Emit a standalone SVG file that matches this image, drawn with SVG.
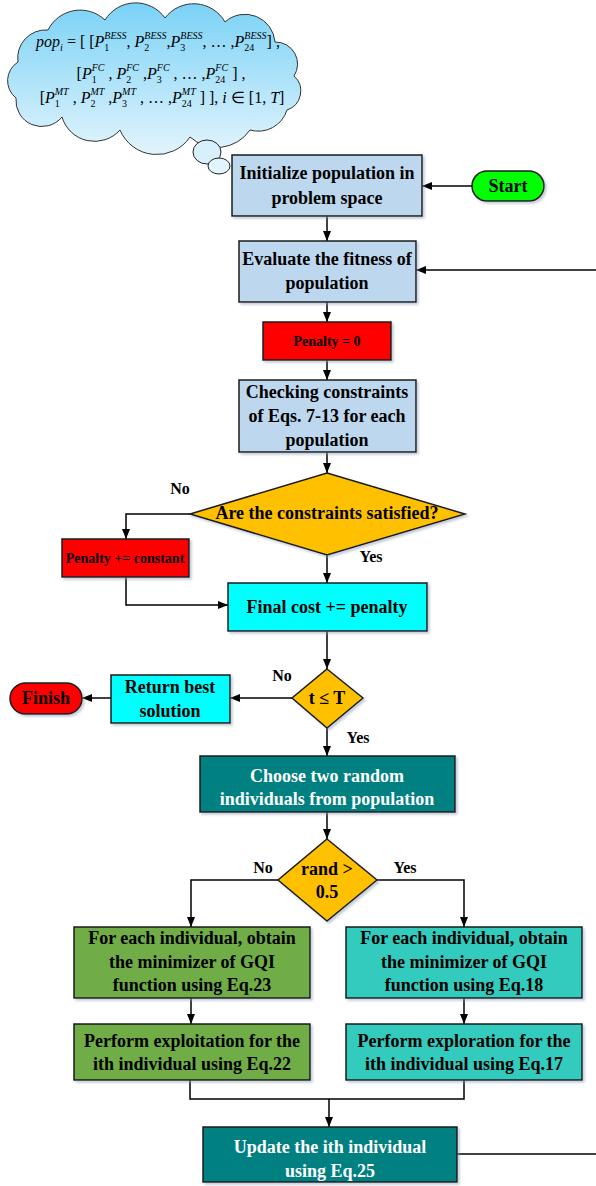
<svg xmlns="http://www.w3.org/2000/svg" width="596" height="1186" viewBox="0 0 596 1186">
<defs>
<linearGradient id="cg" x1="0" y1="0" x2="0" y2="1">
<stop offset="0" stop-color="#7ad2f6"/>
<stop offset="1" stop-color="#e2f4fd"/>
</linearGradient>
<filter id="sh" x="-10%" y="-10%" width="130%" height="140%">
<feDropShadow dx="2" dy="2" stdDeviation="1.2" flood-color="#8a9bb0" flood-opacity="0.5"/>
</filter>
<marker id="ah" viewBox="0 0 10 8" refX="10" refY="4" markerWidth="10" markerHeight="8" markerUnits="userSpaceOnUse" orient="auto">
<path d="M0,0 L10,4 L0,8 z" fill="#000"/>
</marker>
</defs>
<style>
.box{stroke:#1a1a1a;stroke-width:1.5;filter:url(#sh)}
.t{font-family:"Liberation Serif","Times New Roman",serif;font-weight:bold;font-size:18px;text-anchor:middle;fill:#000}
.w{fill:#fff}
.sm{font-size:14px}
.lb{font-family:"Liberation Serif","Times New Roman",serif;font-weight:bold;font-size:16px;text-anchor:middle;fill:#000}
.ln{fill:none;stroke:#000;stroke-width:1.5}
.arr{marker-end:url(#ah)}
.f{font-family:"Liberation Serif","Times New Roman",serif;font-size:16px;text-anchor:middle;fill:#000}
.it{font-style:italic}
.s{font-size:10px}
</style>

<g id="cloud">
<path d="M18,62 A28,28 0 0 1 48,30 A36,36 0 0 1 105,20 A36,36 0 0 1 165,18 A36,36 0 0 1 225,22 A30,30 0 0 1 275,42 A22,22 0 0 1 294,76 A20,20 0 0 1 287,110 A30,30 0 0 1 250,130 A40,40 0 0 1 190,137 A40,40 0 0 1 120,130 A34,34 0 0 1 62,117 A26,26 0 0 1 16,98 A22,22 0 0 1 18,62 Z" fill="url(#cg)" stroke="#333" stroke-width="1"/>
<ellipse cx="207" cy="152" rx="14" ry="12" fill="#d6f0fc" stroke="#222" stroke-width="1"/>
<ellipse cx="219" cy="166" rx="11" ry="8" fill="#e2f4fd" stroke="#222" stroke-width="1"/>
<text class="f" x="158" y="47"><tspan class="it">pop</tspan><tspan class="s it" dy="4">i</tspan><tspan dy="-4"> = [ [</tspan><tspan class="it">P</tspan><tspan class="s" dy="4">1</tspan><tspan class="s it" dx="-5" dy="-12">BESS</tspan><tspan dy="8">, </tspan><tspan class="it">P</tspan><tspan class="s" dy="4">2</tspan><tspan class="s it" dx="-5" dy="-12">BESS</tspan><tspan dy="8">,</tspan><tspan class="it">P</tspan><tspan class="s" dy="4">3</tspan><tspan class="s it" dx="-5" dy="-12">BESS</tspan><tspan dy="8">, … ,</tspan><tspan class="it">P</tspan><tspan class="s" dy="4">24</tspan><tspan class="s it" dx="-10" dy="-12">BESS</tspan><tspan dy="8">] ,</tspan></text>
<text class="f" x="161" y="79"><tspan>[</tspan><tspan class="it">P</tspan><tspan class="s" dy="4">1</tspan><tspan class="s it" dx="-5" dy="-12">FC</tspan><tspan dy="8"> , </tspan><tspan class="it">P</tspan><tspan class="s" dy="4">2</tspan><tspan class="s it" dx="-5" dy="-12">FC</tspan><tspan dy="8"> ,</tspan><tspan class="it">P</tspan><tspan class="s" dy="4">3</tspan><tspan class="s it" dx="-5" dy="-12">FC</tspan><tspan dy="8"> , … ,</tspan><tspan class="it">P</tspan><tspan class="s" dy="4">24</tspan><tspan class="s it" dx="-10" dy="-12">FC</tspan><tspan dy="8"> ] ,</tspan></text>
<text class="f" x="162" y="103"><tspan>[</tspan><tspan class="it">P</tspan><tspan class="s" dy="4">1</tspan><tspan class="s it" dx="-5" dy="-12">MT</tspan><tspan dy="8"> , </tspan><tspan class="it">P</tspan><tspan class="s" dy="4">2</tspan><tspan class="s it" dx="-5" dy="-12">MT</tspan><tspan dy="8"> ,</tspan><tspan class="it">P</tspan><tspan class="s" dy="4">3</tspan><tspan class="s it" dx="-5" dy="-12">MT</tspan><tspan dy="8"> , … ,</tspan><tspan class="it">P</tspan><tspan class="s" dy="4">24</tspan><tspan class="s it" dx="-10" dy="-12">MT</tspan><tspan dy="8"> ] ], </tspan><tspan class="it">i</tspan><tspan> ∈ [1, </tspan><tspan class="it">T</tspan><tspan>]</tspan></text>
</g>

<g id="connectors">
<line class="ln arr" x1="472" y1="186" x2="422" y2="186"/>
<line class="ln arr" x1="327" y1="216" x2="327" y2="241"/>
<line class="ln arr" x1="596" y1="270" x2="416" y2="270"/>
<line class="ln arr" x1="327" y1="302" x2="327" y2="322"/>
<line class="ln arr" x1="327" y1="360" x2="327" y2="380"/>
<line class="ln arr" x1="327" y1="452" x2="327" y2="473"/>
<polyline class="ln arr" points="190,514 126,514 126,539"/>
<line class="ln arr" x1="327" y1="555" x2="327" y2="583"/>
<polyline class="ln arr" points="126,577 126,605 228,605"/>
<line class="ln arr" x1="327" y1="631" x2="327" y2="669"/>
<line class="ln arr" x1="292" y1="698" x2="230" y2="698"/>
<line class="ln arr" x1="111" y1="698" x2="82" y2="698"/>
<line class="ln arr" x1="327" y1="728" x2="327" y2="756"/>
<line class="ln arr" x1="327" y1="812" x2="327" y2="839"/>
<polyline class="ln arr" points="278,880 191,880 191,927"/>
<polyline class="ln arr" points="377,880 464,880 464,927"/>
<line class="ln arr" x1="191" y1="998" x2="191" y2="1024"/>
<line class="ln arr" x1="464" y1="998" x2="464" y2="1024"/>
<polyline class="ln" points="190,1080 190,1099 464,1099 464,1080"/>
<line class="ln arr" x1="329" y1="1099" x2="329" y2="1127"/>
<line class="ln" x1="457" y1="1154" x2="596" y2="1154"/>
<text class="lb" x="180" y="494">No</text>
<text class="lb" x="371" y="562">Yes</text>
<text class="lb" x="282" y="681">No</text>
<text class="lb" x="358" y="743">Yes</text>
<text class="lb" x="263" y="873">No</text>
<text class="lb" x="405" y="873">Yes</text>
</g>

<g id="start">
<rect class="box" x="472" y="171" width="72" height="30" rx="15" fill="#00ff00"/>
<text class="t" x="508" y="192">Start</text>
</g>
<g id="init">
<rect class="box" x="232" y="155" width="190" height="61" fill="#bdd7ee"/>
<text class="t" x="327" y="179">Initialize population in</text>
<text class="t" x="327" y="204">problem space</text>
</g>
<g id="evaluate">
<rect class="box" x="239" y="241" width="177" height="61" fill="#bdd7ee"/>
<text class="t" x="327" y="265">Evaluate the fitness of</text>
<text class="t" x="327" y="289">population</text>
</g>
<g id="penalty0">
<rect class="box" x="263" y="322" width="128" height="38" fill="#ff0000"/>
<text class="t sm" x="327" y="346">Penalty = 0</text>
</g>
<g id="checking">
<rect class="box" x="239" y="380" width="177" height="72" fill="#bdd7ee"/>
<text class="t" x="327" y="398">Checking constraints</text>
<text class="t" x="327" y="422">of Eqs. 7-13 for each</text>
<text class="t" x="327" y="446">population</text>
</g>
<g id="satisfied">
<polygon class="box" points="327,473 465,514 327,555 190,514" fill="#ffc000"/>
<text class="t" x="327" y="519">Are the constraints satisfied?</text>
</g>
<g id="penaltyconst">
<rect class="box" x="62" y="539" width="127" height="38" fill="#ff0000"/>
<text class="t sm" x="125" y="563">Penalty += constant</text>
</g>
<g id="finalcost">
<rect class="box" x="228" y="583" width="199" height="48" fill="#00ffff"/>
<text class="t" x="327" y="613">Final cost += penalty</text>
</g>
<g id="tT">
<polygon class="box" points="327,669 363,698 327,728 292,698" fill="#ffc000"/>
<text class="t" x="327" y="704">t ≤ T</text>
</g>
<g id="returnbest">
<rect class="box" x="111" y="675" width="119" height="48" fill="#00ffff"/>
<text class="t" x="170" y="693">Return best</text>
<text class="t" x="170" y="717">solution</text>
</g>
<g id="finish">
<rect class="box" x="10" y="683" width="72" height="31" rx="15.5" fill="#ff0000"/>
<text class="t" x="46" y="704">Finish</text>
</g>
<g id="choose">
<rect class="box" x="200" y="756" width="255" height="56" fill="#008080"/>
<text class="t w" x="327" y="782">Choose two random</text>
<text class="t w" x="327" y="805">individuals from population</text>
</g>
<g id="rand">
<polygon class="box" points="327,839 377,880 327,921 278,880" fill="#ffc000"/>
<text class="t" x="327" y="875">rand &gt;</text>
<text class="t" x="327" y="898">0.5</text>
</g>
<g id="gqi23">
<rect class="box" x="74" y="927" width="236" height="71" fill="#70ad47"/>
<text class="t" x="192" y="944">For each individual, obtain</text>
<text class="t" x="192" y="968">the minimizer of GQI</text>
<text class="t" x="192" y="991">function using Eq.23</text>
</g>
<g id="gqi18">
<rect class="box" x="346" y="927" width="236" height="71" fill="#33cbbd"/>
<text class="t" x="464" y="944">For each individual, obtain</text>
<text class="t" x="464" y="968">the minimizer of GQI</text>
<text class="t" x="464" y="991">function using Eq.18</text>
</g>
<g id="exploit">
<rect class="box" x="74" y="1024" width="236" height="56" fill="#70ad47"/>
<text class="t" x="192" y="1047">Perform exploitation for the</text>
<text class="t" x="192" y="1070">ith individual using Eq.22</text>
</g>
<g id="explore">
<rect class="box" x="346" y="1024" width="236" height="56" fill="#33cbbd"/>
<text class="t" x="464" y="1047">Perform exploration for the</text>
<text class="t" x="464" y="1070">ith individual using Eq.17</text>
</g>
<g id="update">
<rect class="box" x="203" y="1127" width="254" height="55" fill="#008080"/>
<text class="t w" x="330" y="1153">Update the ith individual</text>
<text class="t w" x="330" y="1177">using Eq.25</text>
</g>
</svg>
